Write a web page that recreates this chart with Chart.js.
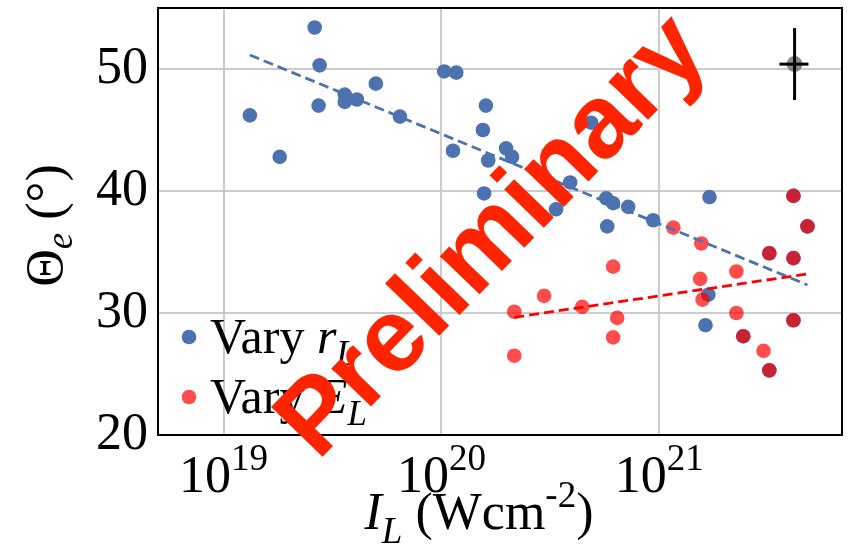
<!DOCTYPE html>
<html>
<head>
<meta charset="utf-8">
<script src="https://cdn.jsdelivr.net/npm/chart.js@4.4.0/dist/chart.umd.min.js"></script>
<style>
    body { margin: 0; background: #fff; }
</style>
</head>
<body>
<canvas id="grafico" width="851" height="550"></canvas>
<script>
// Vary r_L series: laser intensity (W/cm^2) and exit angle (deg)
var intensityR = [1.32e19, 1.81e19, 2.62e19, 2.76e19, 2.73e19, 3.60e19, 3.60e19, 4.09e19, 5.00e19, 6.45e19,
    1.03e20, 1.17e20, 1.13e20, 1.60e20, 1.55e20, 1.64e20, 1.57e20, 1.98e20, 2.11e20, 4.87e20,
    3.90e20, 3.36e20, 5.71e20, 6.14e20, 7.20e20, 5.77e20, 9.38e20, 1.70e21, 1.68e21, 1.63e21,
    2.43e21, 3.20e21, 3.20e21, 4.13e21, 4.79e21, 4.13e21, 4.13e21];
var angleR = [46.2, 42.8, 53.4, 50.3, 47.0, 47.9, 47.3, 47.5, 48.8, 46.1,
    49.8, 49.7, 43.3, 47.0, 45.0, 42.5, 39.8, 43.5, 42.8, 45.6,
    40.7, 38.5, 39.4, 39.0, 38.7, 37.1, 37.6, 39.5, 31.5, 29.0,
    28.1, 34.9, 25.3, 39.6, 37.1, 34.5, 29.4];

// Vary E_L series
var intensityE = [2.16e20, 2.16e20, 2.96e20, 4.43e20, 6.14e20, 6.41e20, 6.14e20, 1.16e21, 1.56e21, 1.54e21,
    1.58e21, 2.26e21, 2.26e21, 3.01e21, 2.43e21, 3.20e21, 3.20e21, 4.13e21, 4.79e21, 4.13e21, 4.13e21];
var angleE = [30.1, 26.5, 31.4, 30.5, 33.8, 29.6, 28.0, 37.0, 35.7, 32.8,
    31.1, 33.4, 30.0, 26.9, 28.1, 34.9, 25.3, 39.6, 37.1, 34.5, 29.4];

// log-linear fits (end points)
var fitRX = [1.32e19, 4.79e21];
var fitRY = [51.15, 32.3];
var fitEX = [2.16e20, 4.79e21];
var fitEY = [29.65, 33.2];

// typical uncertainty marker
var errX = 4.18e21, errXLow = 3.56e21, errXHigh = 4.84e21;
var errY = 50.4, errYDelta = 2.95;

var xTicks = [1e19, 1e20, 1e21];
var yTicks = [20, 30, 40, 50];
var legendLabels = [['Vary ', 'r'], ['Vary ', 'E']];

var serif = '"Liberation Serif", "Times New Roman", serif';
var azul = '#4c72b0';
var rojo = 'rgba(255, 0, 0, 0.7)';

function toPoints(xs, ys) {
    var pts = [];
    for (var i = 0; i < xs.length; i++) {
        pts.push({ x: xs[i], y: ys[i] });
    }
    return pts;
}

function fontOf(r) {
    return (r.bold ? 'bold ' : '') + (r.italic ? 'italic ' : '') + r.size + 'px ' + serif;
}

function runsWidth(ctx, runs) {
    var w = 0;
    runs.forEach(function (r) {
        ctx.font = fontOf(r);
        w += ctx.measureText(r.t).width;
    });
    return w;
}

function drawRuns(ctx, runs, x, y) {
    runs.forEach(function (r) {
        ctx.font = fontOf(r);
        ctx.fillText(r.t, x, y + (r.dy || 0));
        x += ctx.measureText(r.t).width;
    });
}

var decor = {
    id: 'decor',
    afterDraw: function (chart) {
        var ctx = chart.ctx;
        var area = chart.chartArea;
        var sx = chart.scales.x;

        ctx.save();
        ctx.fillStyle = '#000';
        ctx.textAlign = 'left';
        ctx.textBaseline = 'alphabetic';

        // plot frame
        ctx.strokeStyle = '#000';
        ctx.lineWidth = 2;
        ctx.strokeRect(area.left, area.top, area.right - area.left, area.bottom - area.top);

        // x tick labels as powers of ten
        xTicks.forEach(function (v) {
            var exp = String(Math.round(Math.log10(v)));
            var runs = [{ t: '10', size: 52 }, { t: exp, size: 37, dy: -22 }];
            var w = runsWidth(ctx, runs);
            drawRuns(ctx, runs, sx.getPixelForValue(v) - w / 2, 492);
        });

        // x title
        var xTitle = [
            { t: 'I', size: 52, italic: true },
            { t: 'L', size: 37, italic: true, dy: 14 },
            { t: ' (Wcm', size: 52 },
            { t: '-2', size: 37, dy: -22 },
            { t: ')', size: 52 }
        ];
        drawRuns(ctx, xTitle, 479 - runsWidth(ctx, xTitle) / 2, 529);

        // y title, rotated
        var yTitle = [
            { t: 'Θ', size: 52 },
            { t: 'e', size: 37, italic: true, dy: 10 },
            { t: ' (°)', size: 52 }
        ];
        ctx.save();
        ctx.translate(62, (area.top + area.bottom) / 2 + 4);
        ctx.rotate(-Math.PI / 2);
        drawRuns(ctx, yTitle, -runsWidth(ctx, yTitle) / 2, 0);
        ctx.restore();

        // legend
        var colores = [azul, rojo];
        var base = [353, 413];
        for (var i = 0; i < legendLabels.length; i++) {
            ctx.fillStyle = colores[i];
            ctx.beginPath();
            ctx.arc(189, base[i] - 16, 7.3, 0, Math.PI * 2);
            ctx.fill();
            ctx.fillStyle = '#000';
            drawRuns(ctx, [
                { t: legendLabels[i][0], size: 50 },
                { t: legendLabels[i][1], size: 50, italic: true },
                { t: 'L', size: 35, italic: true, dy: 12 }
            ], 210, base[i]);
        }

        // watermark
        ctx.translate(494, 238);
        ctx.rotate(-46 * Math.PI / 180);
        ctx.font = 'bold 104px "Liberation Sans", Arial, sans-serif';
        ctx.fillStyle = '#ff2400';
        ctx.textAlign = 'center';
        ctx.textBaseline = 'middle';
        ctx.fillText('Preliminary', 0, 0);
        ctx.restore();
    }
};

var canvas = document.getElementById('grafico');
var grafico = new Chart(canvas, {
    type: 'scatter',
    data: {
        datasets: [
            {
                data: toPoints(intensityR, angleR),
                backgroundColor: azul,
                pointRadius: 7.3,
                pointBorderWidth: 0,
                order: 6
            },
            {
                data: toPoints(intensityE, angleE),
                backgroundColor: rojo,
                pointRadius: 7.3,
                pointBorderWidth: 0,
                order: 5
            },
            {
                data: toPoints(fitRX, fitRY),
                showLine: true,
                borderColor: azul,
                borderWidth: 2.8,
                borderDash: [10, 5],
                pointRadius: 0,
                order: 4
            },
            {
                data: toPoints(fitEX, fitEY),
                showLine: true,
                borderColor: '#ff0000',
                borderWidth: 2.8,
                borderDash: [10, 5],
                pointRadius: 0,
                order: 3
            },
            {
                data: [{ x: errX, y: errY }],
                backgroundColor: 'rgba(110, 110, 110, 0.8)',
                pointRadius: 8,
                pointBorderWidth: 0,
                order: 2
            },
            {
                data: [{ x: errX, y: errY - errYDelta }, { x: errX, y: errY + errYDelta }],
                showLine: true,
                borderColor: '#000',
                borderWidth: 3,
                pointRadius: 0,
                order: 1
            },
            {
                data: [{ x: errXLow, y: errY }, { x: errXHigh, y: errY }],
                showLine: true,
                borderColor: '#000',
                borderWidth: 3,
                pointRadius: 0,
                order: 0
            }
        ]
    },
    options: {
        responsive: false,
        devicePixelRatio: 1,
        animation: false,
        layout: { padding: { top: 7, right: 9, left: 0, bottom: 0 } },
        plugins: {
            legend: { display: false },
            tooltip: { enabled: false }
        },
        scales: {
            x: {
                type: 'logarithmic',
                min: 5e18,
                max: 6.9e21,
                afterBuildTicks: function (s) {
                    s.ticks = xTicks.map(function (v) { return { value: v }; });
                },
                afterFit: function (s) {
                    s.height = 115;
                    s.paddingLeft = 0;
                    s.paddingRight = 0;
                },
                ticks: { display: false },
                grid: { color: '#cccccc', lineWidth: 2, drawTicks: false },
                border: { display: false }
            },
            y: {
                min: 20,
                max: 55,
                afterBuildTicks: function (s) {
                    s.ticks = yTicks.map(function (v) { return { value: v }; });
                },
                afterFit: function (s) {
                    s.width = 158;
                    s.paddingTop = 0;
                    s.paddingBottom = 0;
                },
                ticks: {
                    color: '#000',
                    padding: 10,
                    font: { family: serif, size: 52 }
                },
                grid: { color: '#cccccc', lineWidth: 2, drawTicks: false },
                border: { display: false }
            }
        }
    },
    plugins: [decor]
});
</script>
</body>
</html>
